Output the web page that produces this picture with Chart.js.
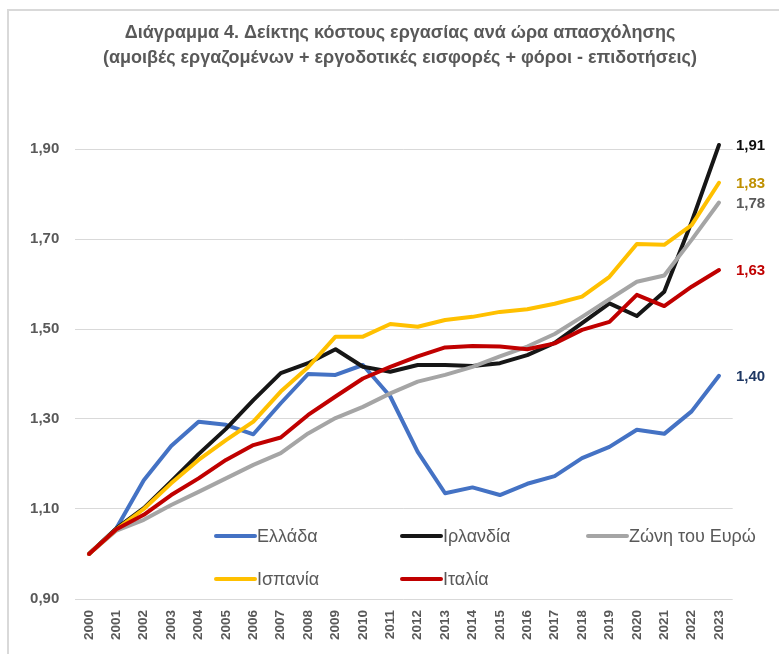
<!DOCTYPE html>
<html><head><meta charset="utf-8">
<script src="https://cdn.jsdelivr.net/npm/chart.js@4/dist/chart.umd.min.js"></script>
<style>
html,body{margin:0;padding:0;background:#fff;overflow:hidden;width:779px;height:654px}
#frame{position:absolute;left:7px;top:9px;width:900px;height:900px;border:2px solid #d9d9d9;box-sizing:border-box}
#wrap{position:absolute;left:0;top:0;width:800px;height:654px}
</style></head><body>
<div id="frame"></div>
<div id="wrap"><canvas id="c" width="800" height="654"></canvas></div>
<script>
const years = ['2000','2001','2002','2003','2004','2005','2006','2007','2008','2009','2010','2011','2012','2013','2014','2015','2016','2017','2018','2019','2020','2021','2022','2023'];
const seriesNames = ['Ελλάδα','Ιρλανδία','Ζώνη του Ευρώ','Ισπανία','Ιταλία'];
const greece  = [1.00,1.057,1.164,1.240,1.294,1.287,1.266,1.335,1.400,1.398,1.420,1.350,1.227,1.135,1.148,1.131,1.156,1.173,1.213,1.238,1.276,1.267,1.317,1.396];
const ireland = [1.00,1.057,1.102,1.161,1.222,1.278,1.342,1.402,1.424,1.455,1.416,1.405,1.420,1.420,1.418,1.424,1.442,1.469,1.513,1.557,1.529,1.583,1.738,1.909];
const euroArea= [1.00,1.052,1.076,1.109,1.138,1.168,1.198,1.224,1.268,1.302,1.327,1.357,1.383,1.398,1.416,1.439,1.461,1.489,1.527,1.566,1.605,1.619,1.698,1.781];
const spain   = [1.00,1.055,1.100,1.157,1.209,1.253,1.294,1.361,1.415,1.483,1.483,1.511,1.505,1.520,1.527,1.538,1.544,1.556,1.572,1.616,1.689,1.687,1.731,1.825];
const italy   = [1.00,1.055,1.087,1.131,1.168,1.209,1.242,1.259,1.309,1.350,1.390,1.416,1.439,1.459,1.462,1.461,1.455,1.468,1.498,1.516,1.576,1.551,1.594,1.631];
const endLabels = ['1,40','1,91','1,78','1,83','1,63'];
const yTicks = [0.9,1.1,1.3,1.5,1.7,1.9];
const yTickLabels = ['0,90','1,10','1,30','1,50','1,70','1,90'];
const titleLines = ['Διάγραμμα 4. Δείκτης κόστους εργασίας ανά ώρα απασχόλησης','(αμοιβές εργαζομένων + εργοδοτικές εισφορές + φόροι - επιδοτήσεις)'];

const lineColors = ['#4472C4','#161616','#A5A5A5','#FFC000','#C00000'];
const labelColors = ['#1F3864','#0D0D0D','#595959','#BF9000','#C00000'];
const FONT = '"Liberation Sans", Arial, sans-serif';
const allSeries = [greece, ireland, euroArea, spain, italy];

const endLabelPlugin = {
  id: 'endLabels',
  afterDatasetsDraw(chart) {
    const ctx = chart.ctx;
    ctx.save();
    ctx.font = 'bold 15px ' + FONT;
    ctx.textAlign = 'left';
    ctx.textBaseline = 'middle';
    chart.data.datasets.forEach((ds, i) => {
      const meta = chart.getDatasetMeta(i);
      const pt = meta.data[meta.data.length - 1];
      ctx.fillStyle = labelColors[i];
      ctx.fillText(endLabels[i], pt.x + 17, pt.y + 1);
    });
    ctx.restore();
  }
};

const legendPlugin = {
  id: 'customLegend',
  afterDraw(chart) {
    const ctx = chart.ctx;
    const cols = [215, 401, 587];
    const rows = [536, 579];
    ctx.save();
    ctx.font = '18px ' + FONT;
    ctx.textBaseline = 'middle';
    ctx.textAlign = 'left';
    chart.data.datasets.forEach((ds, i) => {
      const x = cols[i % 3], y = rows[Math.floor(i / 3)];
      ctx.strokeStyle = ds.borderColor;
      ctx.lineWidth = 4;
      ctx.lineCap = 'round';
      ctx.beginPath();
      ctx.moveTo(x + 1, y);
      ctx.lineTo(x + 40, y);
      ctx.stroke();
      ctx.fillStyle = '#595959';
      ctx.fillText(ds.label, x + 42, y + 1);
    });
    ctx.restore();
  }
};

new Chart(document.getElementById('c'), {
  type: 'line',
  data: {
    labels: years,
    datasets: allSeries.map((d, i) => ({
      label: seriesNames[i],
      data: d,
      borderColor: lineColors[i],
      backgroundColor: lineColors[i],
      borderWidth: 4,
      borderJoinStyle: 'round',
      borderCapStyle: 'round',
      pointRadius: 0,
      pointHoverRadius: 0,
      tension: 0,
      fill: false,
      clip: false,
      order: 5 - i
    }))
  },
  options: {
    responsive: false,
    animation: false,
    devicePixelRatio: 1,
    layout: { padding: 0 },
    plugins: {
      legend: { display: false },
      tooltip: { enabled: false },
      title: {
        display: true,
        text: titleLines,
        color: '#595959',
        font: { family: FONT, size: 18, weight: 'bold', lineHeight: 25/18 },
        padding: { top: 20.5, bottom: 78.5 }
      }
    },
    scales: {
      x: {
        offset: true,
        grid: { display: false, drawTicks: false },
        border: { display: false },
        ticks: {
          minRotation: 90, maxRotation: 90, autoSkip: false,
          padding: 11, color: '#595959',
          font: { family: FONT, size: 13.5, weight: 'bold' }
        },
        afterFit(s) { s.height = 55; }
      },
      y: {
        min: 0.9, max: 1.9,
        afterBuildTicks(s) { s.ticks = yTicks.map(v => ({ value: v })); },
        grid: { color: '#D9D9D9', lineWidth: 1, drawTicks: false },
        border: { display: false },
        ticks: {
          padding: 16, color: '#595959',
          font: { family: FONT, size: 15, weight: 'bold' },
          callback: (v, i) => yTickLabels[i]
        },
        afterFit(s) { s.width = 75.3; }
      },
      yRightSpace: {
        type: 'linear',
        position: 'right',
        display: true,
        grid: { display: false, drawTicks: false },
        border: { display: false },
        ticks: { display: false },
        afterFit(s) { s.width = 67.3; }
      }
    }
  },
  plugins: [endLabelPlugin, legendPlugin]
});
</script>
</body></html>
